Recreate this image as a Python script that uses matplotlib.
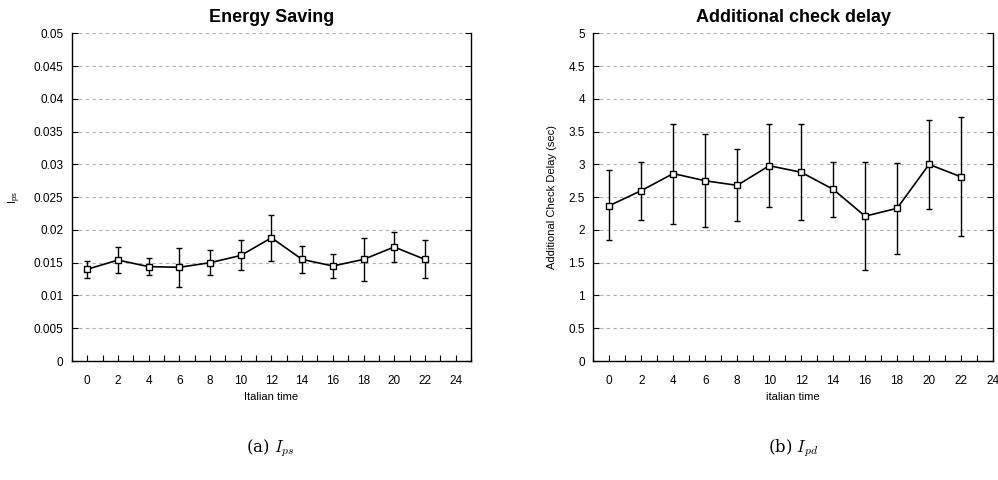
import matplotlib
matplotlib.use("Agg")
import matplotlib.pyplot as plt
from matplotlib.ticker import MultipleLocator
import numpy as np

# %%
# Values.

hours = [0, 2, 4, 6, 8, 10, 12, 14, 16, 18, 20, 22]

ips_mean = [0.0140, 0.0154, 0.0144, 0.0143, 0.0150, 0.0161, 0.0188, 0.0155, 0.0145, 0.0155, 0.0174, 0.0155]
ips_low = [0.0127, 0.0135, 0.0131, 0.0113, 0.0131, 0.0139, 0.0153, 0.0135, 0.0127, 0.0122, 0.0151, 0.0127]
ips_high = [0.0153, 0.0174, 0.0157, 0.0173, 0.0169, 0.0184, 0.0223, 0.0176, 0.0164, 0.0188, 0.0197, 0.0184]

ipd_mean = [2.37, 2.60, 2.86, 2.75, 2.68, 2.98, 2.88, 2.62, 2.21, 2.33, 3.00, 2.81]
ipd_low = [1.84, 2.15, 2.09, 2.04, 2.13, 2.35, 2.15, 2.19, 1.39, 1.63, 2.32, 1.91]
ipd_high = [2.91, 3.03, 3.62, 3.46, 3.23, 3.62, 3.61, 3.03, 3.03, 3.02, 3.67, 3.73]

# %%
plt.rcParams["font.family"] = ["Liberation Sans", "DejaVu Sans"]
plt.rcParams["mathtext.fontset"] = "cm"

fig = plt.figure(figsize=(9.98, 4.8), dpi=100)
ax1 = fig.add_axes([0.0721, 0.2479, 0.3998, 0.6827])
ax2 = fig.add_axes([0.5945, 0.2479, 0.4005, 0.6827])


def panel(ax, mean, low, high, title, ylabel, xlabel, ymax, ystep, yfmt, xmax):
    mean = np.array(mean)
    yerr = [mean - np.array(low), np.array(high) - mean]
    ax.errorbar(hours, mean, yerr=yerr, color="k", lw=1.2, elinewidth=1.0,
                capsize=2, capthick=1.0, marker="s", ms=4.2, mfc="white",
                mec="k", mew=1.0, zorder=3)
    ax.set_xlim(-1, xmax)
    ax.set_ylim(0, ymax)
    ax.xaxis.set_major_locator(MultipleLocator(2))
    ax.xaxis.set_minor_locator(MultipleLocator(1))
    yt = np.arange(0, ymax + ystep / 2, ystep)
    ax.set_yticks(yt)
    ax.set_yticklabels([yfmt(v) for v in yt])
    ax.tick_params(axis="both", direction="in", labelsize=8.5, length=4, width=0.8,
                   right=True, pad=6)
    ax.tick_params(axis="x", pad=10)
    ax.tick_params(axis="x", which="minor", direction="in", length=4, width=0.8)
    ax.tick_params(axis="y", which="minor", left=False, right=False)
    ax.grid(axis="y", color="#b0b0b0", linestyle=(0, (3, 3)), lw=0.8)
    ax.spines["top"].set_visible(False)
    for s in ["left", "right", "bottom"]:
        ax.spines[s].set_linewidth(1.0)
    ax.set_title(title, fontsize=13, fontweight="bold", pad=8)
    ax.set_xlabel(xlabel, fontsize=8, labelpad=4)
    ax.set_ylabel(ylabel, fontsize=8, labelpad=8)


def fmt_small(v):
    s = ("%.3f" % v).rstrip("0").rstrip(".")
    return s if s else "0"


def fmt_big(v):
    s = ("%.1f" % v).rstrip("0").rstrip(".")
    return s if s else "0"


panel(ax1, ips_mean, ips_low, ips_high, "Energy Saving",
      r"I$_{\mathregular{ps}}$", "Italian time", 0.05, 0.005, fmt_small, 25)
panel(ax2, ipd_mean, ipd_low, ipd_high, "Additional check delay",
      "Additional Check Delay (sec)", "italian time", 5, 0.5, fmt_big, 24)

fig.text(0.271, 0.058, r"(a) $I_{ps}$", fontsize=12, ha="center",
         family=["DejaVu Serif"])
fig.text(0.795, 0.058, r"(b) $I_{pd}$", fontsize=12, ha="center",
         family=["DejaVu Serif"])

fig.savefig("out.png", dpi=100)
